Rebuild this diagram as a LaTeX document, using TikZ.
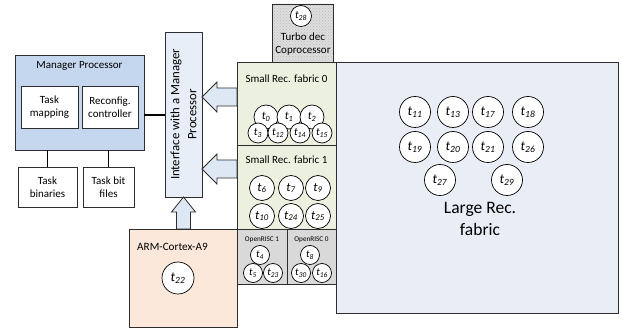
\documentclass[tikz,border=0pt]{standalone}
\usepackage{fontspec}
\setmainfont{Carlito}
\usetikzlibrary{patterns,calc}

\definecolor{linec}{RGB}{45,45,45}
\definecolor{mgrblue}{RGB}{197,215,238}
\definecolor{intfblue}{RGB}{232,238,248}
\definecolor{arrowblue}{RGB}{222,231,244}
\definecolor{smallgreen}{RGB}{235,241,222}
\definecolor{riscgray}{RGB}{217,217,217}
\definecolor{armpeach}{RGB}{252,232,218}
\definecolor{largeblue}{RGB}{233,237,245}
\definecolor{turbogray}{RGB}{222,222,222}

% task label: italic t with an italic subscript
\newcommand\tsk[1]{\textit{t}\textsubscript{\textit{#1}}}

\tikzset{
  box/.style={draw=linec, line width=0.8pt, inner sep=0pt, outer sep=0pt, anchor=north west},
  lbl/.style={inner sep=0pt, font=\fontsize{11}{13.5}\selectfont, align=center},
  conn/.style={draw=black, line width=1.5pt},
  barrow/.style={draw=linec, line width=0.8pt, fill=arrowblue, line join=miter},
  tk/.style={circle, draw=black, fill=white, line width=0.7pt, inner sep=0pt, minimum size=#1},
  tkbig/.style={tk=31pt, font=\fontsize{13.5}{14}\selectfont},
  tkmid/.style={tk=25pt, font=\fontsize{12.5}{13}\selectfont},
  tkrow/.style={tk=24pt, font=\fontsize{11.5}{12}\selectfont},
  tkrowb/.style={tk=20pt, font=\fontsize{11}{11}\selectfont},
  tkxs/.style={tk=19pt, font=\fontsize{10.5}{11}\selectfont},
}

\begin{document}
\begin{tikzpicture}[x=1pt, y=-1pt]
\useasboundingbox (0,0) rectangle (621,328);

% ---------------- manager side ----------------
\node[box, fill=mgrblue, minimum width=129pt, minimum height=95pt] (mgr) at (15,55) {};
\node[lbl] (mgrlab) at (79.5,66) {Manager Processor};
\node[box, fill=white, minimum width=57pt, minimum height=42pt] (tmap) at (21,86) {};
\node[lbl] (tmaplab) at (tmap.center) {Task\\mapping};
\node[box, fill=white, minimum width=56pt, minimum height=42pt] (rc) at (82,86) {};
\node[lbl] (rclab) at (rc.center) {Reconfig.\\controller};

\node[box, fill=white, minimum width=59pt, minimum height=40pt] (tbin) at (18,167) {};
\node[lbl] (tbinlab) at (tbin.center) {Task\\binaries};
\node[box, fill=white, minimum width=51pt, minimum height=40pt] (tbit) at (83,167) {};
\node[lbl] (tbitlab) at (tbit.center) {Task bit\\files};

\draw[conn] (tbin.north |- mgr.south) -- (tbin.north);
\draw[conn] (tbit.north |- mgr.south) -- (tbit.north);

% interface block
\node[box, fill=intfblue, minimum width=37pt, minimum height=165pt] (intf) at (165,32) {};
\node[lbl, rotate=90, font=\fontsize{12.8}{17}\selectfont] (intflab) at (intf.center) {Interface with a Manager\\Processor};

\draw[conn] ($(mgr.east)+(0,12.5)$) coordinate (mgrport) -- (mgrport -| intf.west);

% ---------------- fabrics ----------------
\node[box, fill=largeblue, minimum width=282pt, minimum height=251pt] (large) at (336,62) {};
\node[lbl, font=\fontsize{17.5}{22}\selectfont] (largelab) at (480,219) {Large Rec.\\fabric};

\node[box, fill=turbogray, minimum width=61pt, minimum height=58pt,
      postaction={pattern=crosshatch dots, pattern color=gray!55}] (turbo) at (272,4) {};
\node[box, minimum width=61pt, minimum height=58pt] (turbof) at (272,4) {};
\node[lbl] (turbolab) at (303,44) {Turbo dec\\Coprocessor};

\node[box, fill=smallgreen, minimum width=99pt, minimum height=83pt] (sf0) at (237,62) {};
\node[lbl] (sf0lab) at (286.5,79) {Small Rec. fabric 0};
\node[box, fill=smallgreen, minimum width=99pt, minimum height=84pt] (sf1) at (237,145) {};
\node[lbl] (sf1lab) at (286.5,160) {Small Rec. fabric 1};

\node[box, fill=riscgray, minimum width=50pt, minimum height=55pt] (or1) at (237,229) {};
\node[lbl, font=\fontsize{7.2}{8}\selectfont] (or1lab) at (262,240) {OpenRISC 1};
\node[box, fill=riscgray, minimum width=49pt, minimum height=55pt] (or0) at (287,229) {};
\node[lbl, font=\fontsize{7.2}{8}\selectfont] (or0lab) at (311.5,240) {OpenRISC 0};

\node[box, fill=armpeach, minimum width=108pt, minimum height=98pt] (arm) at (129,229) {};
\node[lbl, anchor=west, font=\fontsize{11.2}{13}\selectfont] (armlab) at (137,247) {ARM-Cortex-A9};

% ---------------- block arrows into the interface ----------------
\coordinate (tip1) at (intf.east |- 0,97);
\coordinate (tip2) at (intf.east |- 0,169);
\draw[barrow] (tip1) -- ++(15,-15) -- ++(0,6) -- ++(20,0) -- ++(0,18) -- ++(-20,0) -- ++(0,6) -- cycle;
\draw[barrow] (tip2) -- ++(15,-15) -- ++(0,6) -- ++(20,0) -- ++(0,18) -- ++(-20,0) -- ++(0,6) -- cycle;
\draw[barrow] (intf.south) -- ++(12,15) -- ++(-5,0) -- ++(0,17) -- ++(-14,0) -- ++(0,-17) -- ++(-5,0) -- cycle;

% ---------------- tasks ----------------
\node[tk=21pt, font=\fontsize{11}{11}\selectfont] (t28) at (301,16) {\tsk{28}};

\node[tkrow] (t0) at (266,117) {\tsk{0}};
\node[tkrow] (t1) at (289,117) {\tsk{1}};
\node[tkrow] (t2) at (312,117) {\tsk{2}};
\node[tkrowb] (t3) at (258,133) {\tsk{3}};
\node[tkrowb] (t12) at (278,133) {\tsk{12}};
\node[tkrowb] (t14) at (300,133) {\tsk{14}};
\node[tkrowb] (t15) at (322,133) {\tsk{15}};

\node[tkmid] (t6) at (262,188) {\tsk{6}};
\node[tkmid] (t7) at (291,188) {\tsk{7}};
\node[tkmid] (t9) at (318,188) {\tsk{9}};
\node[tkmid] (t10) at (262,216) {\tsk{10}};
\node[tkmid] (t24) at (291,216) {\tsk{24}};
\node[tkmid] (t25) at (318,216) {\tsk{25}};

\node[tkxs] (t4) at (260,255) {\tsk{4}};
\node[tkxs] (t5) at (253,273) {\tsk{5}};
\node[tkxs] (t23) at (273,273) {\tsk{23}};
\node[tkxs] (t8) at (310,255) {\tsk{8}};
\node[tkxs] (t30) at (301,273) {\tsk{30}};
\node[tkxs] (t16) at (322,273) {\tsk{16}};

\node[tk=32pt, font=\fontsize{13.5}{14}\selectfont] (t22) at (178,278) {\tsk{22}};

\node[tkbig] (t11) at (415,112) {\tsk{11}};
\node[tkbig] (t13) at (453,112) {\tsk{13}};
\node[tkbig] (t17) at (488,112) {\tsk{17}};
\node[tkbig] (t18) at (528,112) {\tsk{18}};
\node[tkbig] (t19) at (415,147) {\tsk{19}};
\node[tkbig] (t20) at (453,147) {\tsk{20}};
\node[tkbig] (t21) at (488,147) {\tsk{21}};
\node[tkbig] (t26) at (528,147) {\tsk{26}};
\node[tkbig] (t27) at (440,180) {\tsk{27}};
\node[tkbig] (t29) at (507,180) {\tsk{29}};
\end{tikzpicture}
\end{document}
